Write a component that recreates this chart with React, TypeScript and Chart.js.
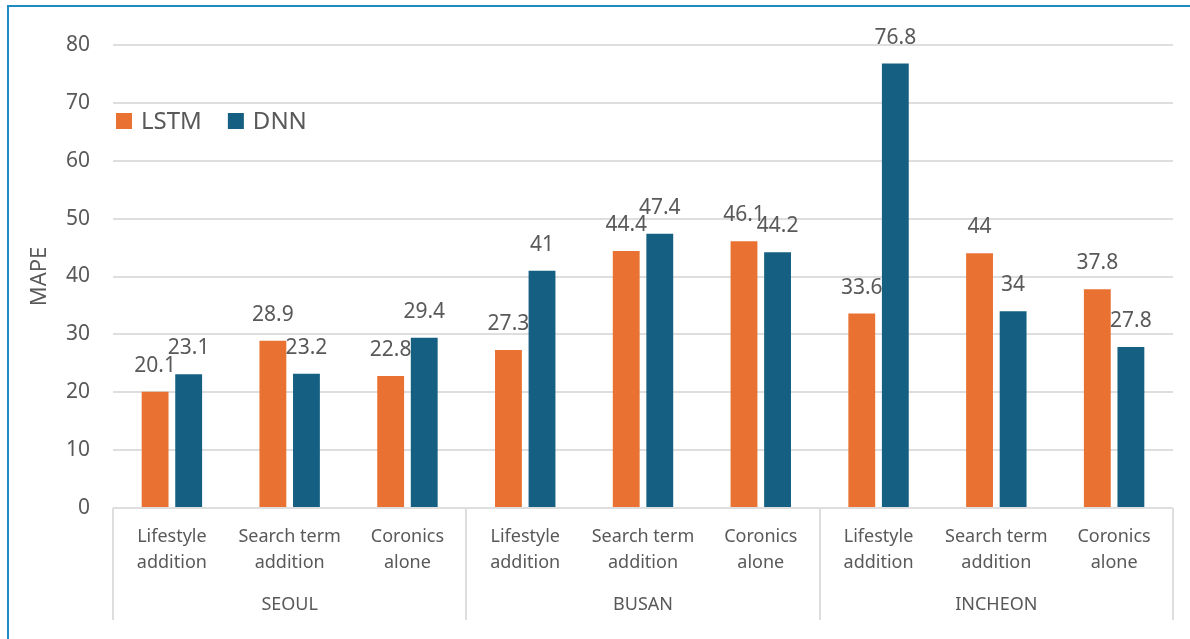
import React, { useEffect, useRef } from "react";
import { Chart, registerables } from "chart.js";

Chart.register(...registerables);

// City groups and the three feature sets compared within each city
const groups = ["SEOUL", "BUSAN", "INCHEON"];
const scenarios: string[][] = [
  ["Lifestyle", "addition"],
  ["Search term", "addition"],
  ["Coronics", "alone"],
];
const categories = groups.flatMap((g) => scenarios.map((s) => `${g} ${s.join(" ")}`));

// MAPE per model, in category order
const lstmValues = [20.1, 28.9, 22.8, 27.3, 44.4, 46.1, 33.6, 44, 37.8];
const dnnValues = [23.1, 23.2, 29.4, 41, 47.4, 44.2, 76.8, 34, 27.8];

const seriesNames = ["LSTM", "DNN"];
const seriesColors = ["#E97132", "#156082"];

const yMin = 0;
const yMax = 80;
const yStep = 10;
const yTitle = "MAPE";

const FONT = '"Noto Sans", "DejaVu Sans", sans-serif';
const TEXT = "#595959";
const GRID = "#dedede";

const decorations = {
  id: "decorations",
  afterDatasetsDraw(chart: any) {
    const { ctx, chartArea, scales } = chart;
    const x = scales.x;
    ctx.save();

    // value labels above bars
    ctx.fillStyle = TEXT;
    ctx.font = `21px ${FONT}`;
    ctx.textAlign = "center";
    ctx.textBaseline = "alphabetic";
    chart.data.datasets.forEach((ds: any, di: number) => {
      const meta = chart.getDatasetMeta(di);
      meta.data.forEach((bar: any, i: number) => {
        ctx.fillText(String(ds.data[i]), bar.x, bar.y - 20);
      });
    });

    // category labels (two lines each)
    ctx.font = `18px ${FONT}`;
    ctx.textBaseline = "middle";
    categories.forEach((_, i) => {
      const cx = x.getPixelForValue(i);
      const lines = scenarios[i % scenarios.length];
      lines.forEach((line, li) => {
        ctx.fillText(line, cx, 537 + li * 26);
      });
    });

    // group labels and separators
    const catW = (chartArea.right - chartArea.left) / categories.length;
    ctx.strokeStyle = GRID;
    ctx.lineWidth = 2;
    for (let g = 0; g <= groups.length; g++) {
      const sx = Math.round(chartArea.left + g * scenarios.length * catW);
      ctx.beginPath();
      ctx.moveTo(sx, chartArea.bottom);
      ctx.lineTo(sx, 620);
      ctx.stroke();
    }
    groups.forEach((gname, g) => {
      const cx = chartArea.left + (g * scenarios.length + scenarios.length / 2) * catW;
      ctx.fillText(gname, cx, 605);
    });

    // y axis title
    ctx.save();
    ctx.translate(40, (chartArea.top + chartArea.bottom) / 2);
    ctx.rotate(-Math.PI / 2);
    ctx.font = `22px ${FONT}`;
    ctx.fillText(yTitle, 0, 0);
    ctx.restore();

    // legend
    ctx.font = `24px ${FONT}`;
    ctx.textAlign = "left";
    ctx.textBaseline = "middle";
    let lx = 116;
    const ly = 121;
    seriesNames.forEach((name, i) => {
      ctx.fillStyle = seriesColors[i];
      ctx.fillRect(lx, ly - 8, 16, 16);
      ctx.fillStyle = TEXT;
      ctx.fillText(name, lx + 25, ly + 1);
      lx += 25 + ctx.measureText(name).width + 26;
    });

    ctx.restore();
  },
};

export default function App() {
  const canvasRef = useRef<HTMLCanvasElement | null>(null);

  useEffect(() => {
    if (!canvasRef.current) return;
    const chart = new Chart(canvasRef.current, {
      type: "bar",
      data: {
        labels: categories,
        datasets: [
          {
            label: seriesNames[0],
            data: lstmValues,
            backgroundColor: seriesColors[0],
            categoryPercentage: 0.57,
            barPercentage: 0.8,
          },
          {
            label: seriesNames[1],
            data: dnnValues,
            backgroundColor: seriesColors[1],
            categoryPercentage: 0.57,
            barPercentage: 0.8,
          },
        ],
      },
      options: {
        responsive: false,
        animation: false,
        devicePixelRatio: 1,
        layout: { padding: { left: 0, right: 17, top: 45, bottom: 131 } },
        plugins: {
          legend: { display: false },
          tooltip: { enabled: false },
        },
        scales: {
          x: { display: false },
          y: {
            min: yMin,
            max: yMax,
            afterFit: (scale: any) => {
              scale.width = 113;
            },
            ticks: {
              stepSize: yStep,
              padding: 23,
              color: TEXT,
              font: { family: FONT, size: 21 },
            },
            grid: { color: GRID, lineWidth: 2, drawTicks: false },
            border: { display: false },
          },
        },
      },
      plugins: [decorations],
    });
    return () => chart.destroy();
  }, []);

  return (
    <div
      style={{
        position: "fixed",
        left: 0,
        top: 0,
        width: 1190,
        height: 639,
        background: "#ffffff",
        overflow: "hidden",
      }}
    >
      <div
        style={{
          position: "absolute",
          left: 7,
          top: 5,
          width: 1200,
          height: 700,
          borderLeft: "2px solid #1f8ac4",
          borderTop: "2px solid #1f8ac4",
        }}
      />
      <canvas
        ref={canvasRef}
        width={1190}
        height={639}
        style={{ position: "absolute", left: 0, top: 0, width: 1190, height: 639 }}
      />
    </div>
  );
}
